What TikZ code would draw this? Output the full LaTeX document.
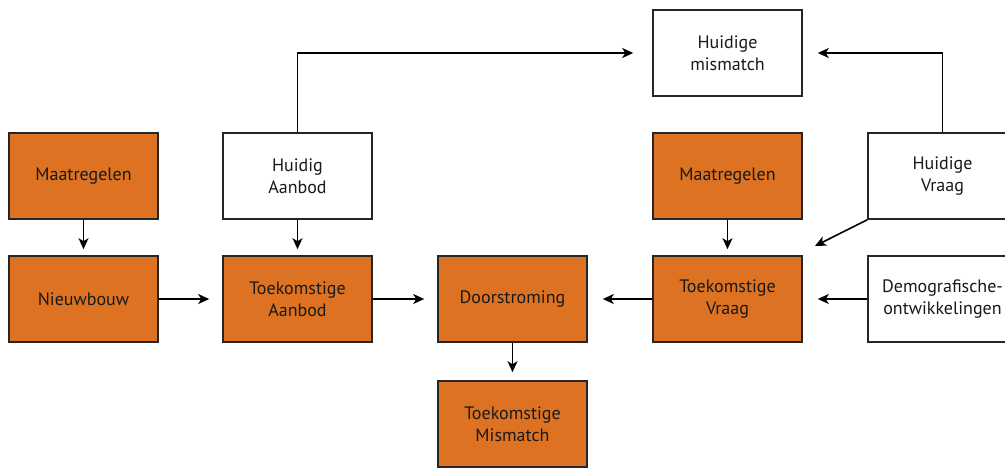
\documentclass[tikz,border=0pt]{standalone}
\usepackage{fontspec}
\setmainfont{PT Sans}
\usetikzlibrary{arrows.meta}
\definecolor{boxorange}{RGB}{221,115,34}
\tikzset{
  box/.style={draw=black!85, line width=1.6pt, minimum width=149pt, minimum height=86pt,
    align=center, font=\fontsize{18}{21.5}\selectfont, text=black!90, inner sep=0pt},
  obox/.style={box, fill=boxorange},
  wbox/.style={box, fill=white},
  conn/.style={line width=1.6pt, -{Stealth[length=11pt,width=10pt,inset=3pt]}}
}
\begin{document}
\begin{tikzpicture}[x=1pt,y=-1pt]
\useasboundingbox (0,0) rectangle (1005,467);
\node[wbox] (hm) at (727.5,53) {Huidige\\mismatch};
\node[obox] (m1) at (83.5,176) {Maatregelen};
\node[wbox] (ha) at (297.5,176) {Huidig\\Aanbod};
\node[obox] (m2) at (727.5,176) {Maatregelen};
\node[wbox] (hv) at (942.5,176) {Huidige\\Vraag};
\node[obox] (nb) at (83.5,299) {Nieuwbouw};
\node[obox] (ta) at (297.5,299) {Toekomstige\\Aanbod};
\node[obox] (ds) at (512.5,299) {Doorstroming};
\node[obox] (tv) at (727.5,299) {Toekomstige\\Vraag};
\node[wbox] (dem) at (942.5,299) {Demografische-\\ontwikkelingen};
\node[obox] (tm) at (512.5,424) {Toekomstige\\Mismatch};
\coordinate (diagtip) at (815,246);
\draw[conn, shorten >=6pt] (m1) -- (nb);
\draw[conn, shorten >=6pt] (ha) -- (ta);
\draw[conn, shorten >=6pt] (m2) -- (tv);
\draw[conn, shorten >=13pt] (nb) -- (ta);
\draw[conn, shorten >=13pt] (ta) -- (ds);
\draw[conn, shorten >=15pt] (tv) -- (ds);
\draw[conn, shorten >=15pt] (dem) -- (tv);
\draw[conn, shorten >=8pt] (ds) -- (tm);
\draw[conn, shorten >=19pt] (ha.north) |- (hm.west);
\draw[conn, shorten >=15pt] (hv.north) |- (hm.east);
\draw[conn] (hv.south west) -- (diagtip);
\end{tikzpicture}
\end{document}
